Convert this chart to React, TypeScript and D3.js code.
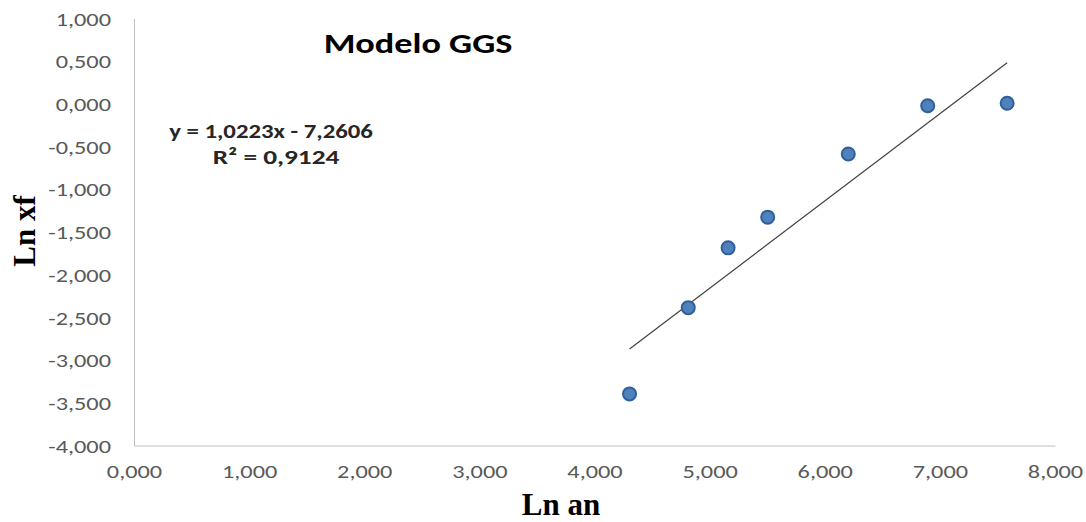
import * as d3 from 'd3';
import React from 'react';

// Ln an / Ln xf pairs
const lnAn = [4.3, 4.81, 5.156, 5.5, 6.2, 6.89, 7.58];
const lnXf = [-3.39, -2.38, -1.68, -1.32, -0.58, -0.015, 0.013];
const slope = 1.0223;
const intercept = -7.2606;
const xTicks = [0, 1, 2, 3, 4, 5, 6, 7, 8];
const yTicks = [1, 0.5, 0, -0.5, -1, -1.5, -2, -2.5, -3, -3.5, -4];

const fmt = (v: number) => d3.format('.3f')(v).replace('.', ',').replace('−', '-');

const calibri = 'Carlito, Lato, "Open Sans", sans-serif';
const times = '"Liberation Serif", "Times New Roman", serif';

export default function App() {
  const w = 1086;
  const h = 522;
  const left = 134.5;
  const right = 1055.5;
  const top = 19;
  const bottom = 446;

  const xScale = d3.scaleLinear().domain([0, 8]).range([left, right]);
  const yScale = d3.scaleLinear().domain([-4, 1]).range([bottom, top]);

  const xMin = d3.min(lnAn) as number;
  const xMax = d3.max(lnAn) as number;
  const trend = d3
    .line<number>()
    .x((d) => xScale(d))
    .y((d) => yScale(slope * d + intercept))([xMin, xMax]);

  // the excel text comes out wider than Carlito, stretch it a bit
  const tickStretch = 1.28;

  return (
    <svg
      width={w}
      height={h}
      style={{ position: 'absolute', left: 0, top: 0, background: 'white' }}>
      <line x1={left} x2={left} y1={top} y2={bottom} stroke='#bfbfbf' strokeWidth={1} />
      <line x1={left} x2={right} y1={bottom} y2={bottom} stroke='#bfbfbf' strokeWidth={1} />

      {yTicks.map((t) => (
        <text
          key={'y' + t}
          transform={`translate(111, ${yScale(t)}) scale(${tickStretch}, 1)`}
          dy='0.35em'
          textAnchor='end'
          fill='#595959'
          style={{ font: `19px ${calibri}` }}>
          {fmt(t)}
        </text>
      ))}
      {xTicks.map((t) => (
        <text
          key={'x' + t}
          transform={`translate(${xScale(t)}, 471) scale(${tickStretch}, 1)`}
          dy='0.35em'
          textAnchor='middle'
          fill='#595959'
          style={{ font: `19px ${calibri}` }}>
          {fmt(t)}
        </text>
      ))}

      <path d={trend ?? ''} fill='none' stroke='#404040' strokeWidth={1.2} />

      {lnAn.map((x, i) => (
        <circle
          key={i}
          cx={xScale(x)}
          cy={yScale(lnXf[i])}
          r={6.5}
          fill='#4f81bd'
          stroke='#30609a'
          strokeWidth={2}
        />
      ))}

      <text
        transform='translate(418, 53) scale(1.25, 1)'
        textAnchor='middle'
        fill='#000'
        style={{ font: `bold 29px ${calibri}` }}>
        Modelo GGS
      </text>

      <text
        transform='translate(271, 138) scale(1.18, 1)'
        textAnchor='middle'
        fill='#262626'
        style={{ font: `bold 21px ${calibri}` }}>
        y = 1,0223x - 7,2606
      </text>
      <text
        transform='translate(276, 164) scale(1.3, 1)'
        textAnchor='middle'
        fill='#262626'
        style={{ font: `bold 21px ${calibri}` }}>
        R² = 0,9124
      </text>

      <text
        transform='translate(35, 231) rotate(-90)'
        textAnchor='middle'
        fill='#000'
        style={{ font: `bold 31px ${times}` }}>
        Ln xf
      </text>
      <text
        x={561}
        y={515}
        textAnchor='middle'
        fill='#000'
        style={{ font: `bold 31px ${times}` }}>
        Ln an
      </text>
    </svg>
  );
}
